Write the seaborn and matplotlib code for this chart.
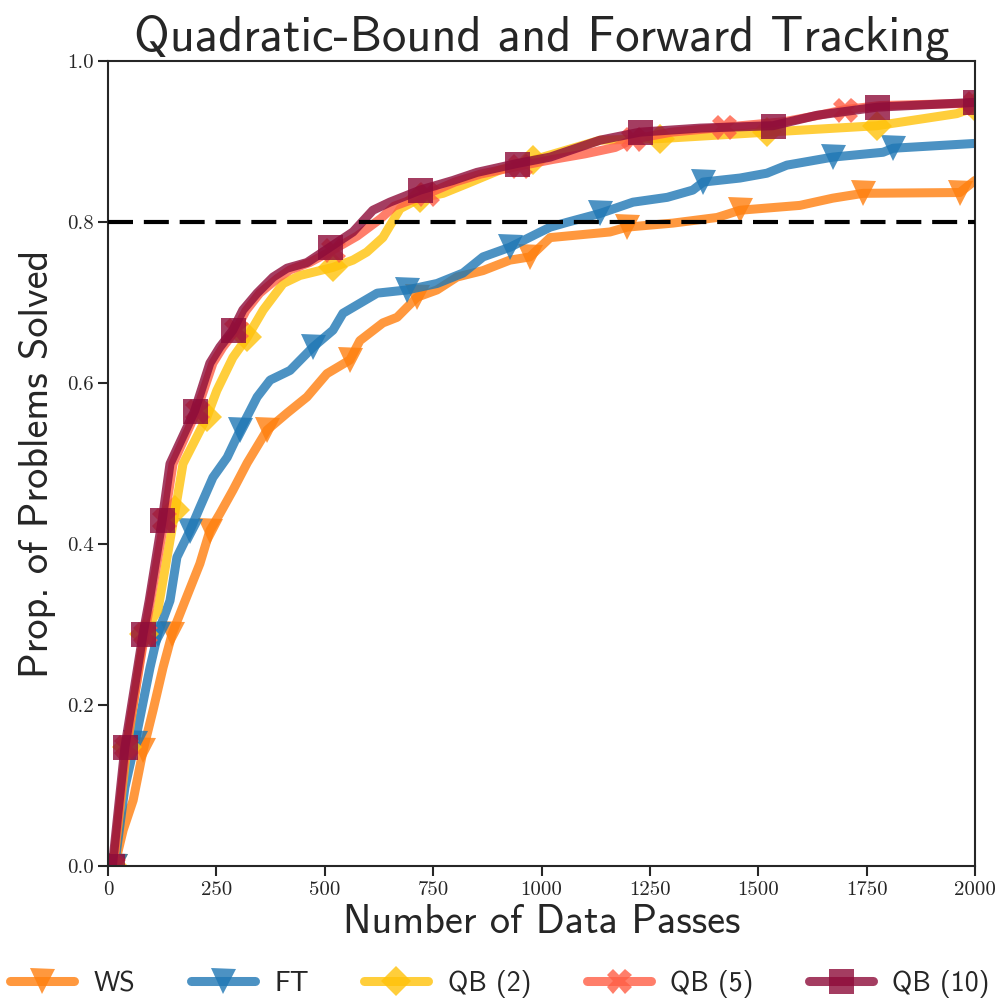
import numpy as np
import pandas as pd
import seaborn as sns
import matplotlib.pyplot as plt
from matplotlib.lines import Line2D

# performance profiles
ws_x = [15, 35, 58, 81, 104, 127, 148, 178, 212, 235, 258, 288, 321, 367, 413, 459, 505, 558, 581, 634,
        667, 713, 759, 805, 865, 927, 973, 1020, 1158, 1197, 1303, 1405, 1458, 1596, 1672, 1742, 1965, 2000]
ws_y = [0.0, 0.045, 0.082, 0.144, 0.194, 0.247, 0.289, 0.330, 0.376, 0.417, 0.438, 0.467, 0.501, 0.542, 0.563,
        0.583, 0.612, 0.629, 0.653, 0.675, 0.682, 0.707, 0.716, 0.732, 0.740, 0.753, 0.757, 0.781, 0.788, 0.794,
        0.799, 0.806, 0.815, 0.821, 0.830, 0.836, 0.837, 0.852]

ft_x = [15, 39, 62, 97, 115, 143, 159, 189, 212, 242, 275, 305, 344, 374, 420, 473, 519, 542, 621, 690, 759,
        819, 865, 927, 990, 1020, 1059, 1135, 1211, 1290, 1349, 1373, 1458, 1520, 1566, 1672, 1788, 1811, 2000]
ft_y = [0.0, 0.098, 0.153, 0.247, 0.289, 0.330, 0.384, 0.417, 0.446, 0.483, 0.508, 0.542, 0.583, 0.604, 0.616,
        0.645, 0.666, 0.687, 0.712, 0.716, 0.724, 0.737, 0.757, 0.769, 0.786, 0.794, 0.800, 0.811, 0.825, 0.831,
        0.840, 0.850, 0.855, 0.861, 0.871, 0.881, 0.887, 0.892, 0.898]

qb2_x = [12, 44, 83, 115, 155, 173, 228, 251, 288, 321, 358, 404, 443, 519, 565, 597, 634, 674, 720, 773, 828,
         904, 980, 1003, 1135, 1273, 1520, 1774, 1958, 2000]
qb2_y = [0.0, 0.148, 0.289, 0.318, 0.442, 0.500, 0.558, 0.591, 0.632, 0.657, 0.691, 0.724, 0.734, 0.744, 0.753,
         0.763, 0.781, 0.817, 0.830, 0.836, 0.848, 0.865, 0.877, 0.881, 0.902, 0.904, 0.912, 0.920, 0.935, 0.943]

qb5_x = [12, 42, 85, 130, 150, 205, 242, 265, 295, 318, 350, 390, 420, 465, 520, 575, 630, 660, 735, 800, 860,
         950, 1025, 1100, 1170, 1210, 1300, 1420, 1560, 1640, 1700, 1780, 2000]
qb5_y = [0.0, 0.148, 0.289, 0.430, 0.500, 0.566, 0.625, 0.645, 0.666, 0.690, 0.712, 0.730, 0.741, 0.750, 0.766,
         0.783, 0.805, 0.820, 0.835, 0.850, 0.860, 0.870, 0.878, 0.885, 0.893, 0.903, 0.912, 0.918, 0.925, 0.933,
         0.940, 0.945, 0.948]

qb10_x = [10, 39, 81, 95, 125, 143, 200, 235, 258, 288, 311, 344, 381, 413, 459, 512, 565, 611, 650, 720, 796,
          851, 943, 1020, 1135, 1227, 1366, 1534, 1636, 1774, 2000]
qb10_y = [0.0, 0.148, 0.289, 0.330, 0.430, 0.500, 0.566, 0.625, 0.645, 0.666, 0.691, 0.712, 0.732, 0.743, 0.750,
          0.769, 0.788, 0.815, 0.825, 0.840, 0.852, 0.862, 0.873, 0.881, 0.902, 0.912, 0.917, 0.920, 0.933, 0.943,
          0.949]

names = ["WS", "FT", "QB (2)", "QB (5)", "QB (10)"]
xs = [ws_x, ft_x, qb2_x, qb5_x, qb10_x]
ys = [ws_y, ft_y, qb2_y, qb5_y, qb10_y]
colors = ["#ff7f0e", "#1f77b4", "#ffc20a", "#ff5e45", "#8e0c3a"]
markers = ["v", "v", "D", "X", "s"]
msizes = [18, 18, 15, 18, 18]

sns.set_style("ticks")
plt.rcParams["axes.formatter.use_mathtext"] = True

fig = plt.figure(figsize=(10, 10.05), dpi=100)
ax = fig.add_axes([0.108, 0.138, 0.867, 0.801])

handles = []
for name, x, y, c, m, ms in zip(names, xs, ys, colors, markers, msizes):
    df = pd.DataFrame({"passes": x, "solved": y})
    sns.lineplot(data=df, x="passes", y="solved", ax=ax, color=c, linewidth=6.5, alpha=0.8,
                 marker=m, markersize=ms, markeredgewidth=0, markevery=0.095,
                 sort=False, estimator=None, legend=False)
    handles.append(Line2D([], [], color=c, linewidth=6.5, alpha=0.8, marker=m,
                          markersize=ms, markeredgewidth=0, label=name))

ax.axhline(0.8, color="black", linestyle=(0, (6, 2.6)), linewidth=3, zorder=5)

ax.set_xlim(0, 2000)
ax.set_ylim(0, 1.0)
ax.set_xticks(np.arange(0, 2001, 250))
ax.set_yticks(np.arange(0, 1.01, 0.2))
ax.set_xticklabels([str(v) for v in range(0, 2001, 250)], fontfamily="cmr10", fontsize=15)
ax.set_yticklabels([f"{v:.1f}" for v in np.arange(0, 1.01, 0.2)], fontfamily="cmr10", fontsize=15)
ax.tick_params(length=7, width=1.5)
for s in ax.spines.values():
    s.set_linewidth(1.5)

ax.set_title("Quadratic-Bound and Forward Tracking", fontfamily="cmss10", fontsize=35, pad=6)
ax.set_xlabel("Number of Data Passes", fontfamily="cmss10", fontsize=29, labelpad=4)
ax.set_ylabel("Prop. of Problems Solved", fontfamily="cmss10", fontsize=29, labelpad=8)

fig.legend(handles=handles, loc="lower center", ncol=5, frameon=False, bbox_to_anchor=(0.5, -0.018),
           prop={"family": "cmss10", "size": 20}, handlelength=2.3, columnspacing=2.0, handletextpad=0.7)

fig.savefig("out.png", dpi=100)
